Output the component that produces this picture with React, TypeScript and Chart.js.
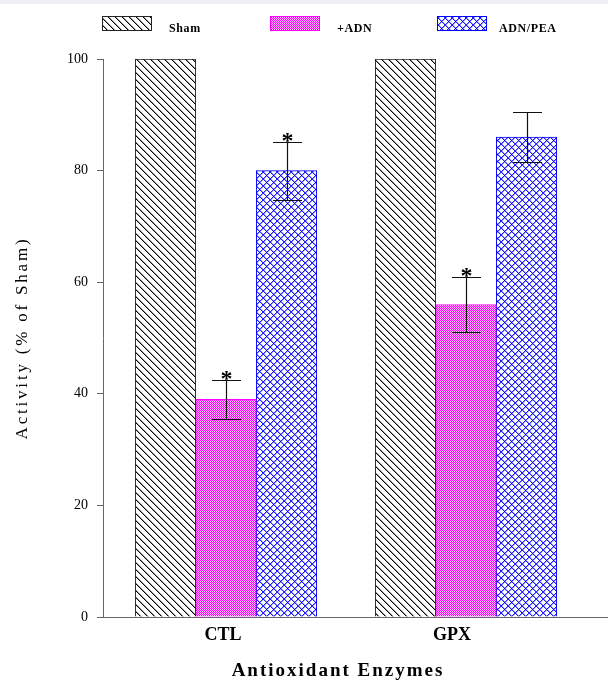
import React, { useEffect, useRef } from 'react';
import { Chart, registerables } from 'chart.js';

Chart.register(...registerables);

// ---- data ----
const categories = ['CTL', 'GPX'];
const seriesNames = ['Sham', '+ADN', 'ADN/PEA'];
const shamValues = [100, 100];
const shamErrors = [0, 0];
const adnValues = [39, 56];
const adnErrors = [3.5, 4.85];
const peaValues = [80, 86];
const peaErrors = [5.2, 4.45];
const shamStars = [false, false];
const adnStars = [true, true];
const peaStars = [true, false];
const yMin = 0;
const yMax = 100;
const yStep = 20;
const xTitle = 'Antioxidant Enzymes';
const yTitle = 'Activity (% of Sham)';

const SERIF = '"Liberation Serif", "Times New Roman", serif';

function tile(w: number, h: number, draw: (g: CanvasRenderingContext2D) => void) {
  const c = document.createElement('canvas');
  c.width = w;
  c.height = h;
  const g = c.getContext('2d')!;
  draw(g);
  return g.createPattern(c, 'repeat')!;
}

function shamPattern() {
  return tile(7, 7, (g) => {
    g.fillStyle = '#fff';
    g.fillRect(0, 0, 7, 7);
    for (let i = 0; i < 7; i++) {
      g.fillStyle = '#000';
      g.fillRect(i, i, 1, 1);
      g.fillStyle = '#9a9a9a';
      g.fillRect((i + 1) % 7, i, 1, 1);
    }
  });
}

function adnPattern() {
  return tile(2, 2, (g) => {
    g.fillStyle = '#ff00ff';
    g.fillRect(0, 0, 2, 2);
    g.fillStyle = '#ffc4ff';
    g.fillRect(1, 0, 1, 1);
    g.fillRect(0, 1, 1, 1);
  });
}

function peaPattern() {
  const n = 7;
  return tile(n, n, (g) => {
    g.fillStyle = '#fff';
    g.fillRect(0, 0, n, n);
    for (let i = 0; i < n; i++) {
      g.fillStyle = '#9a9aff';
      g.fillRect((i + 1) % n, i, 1, 1);
      g.fillRect((n - i + 1) % n, i, 1, 1);
    }
    for (let i = 0; i < n; i++) {
      g.fillStyle = '#2020ff';
      g.fillRect(i, i, 1, 1);
      g.fillRect((n - i) % n, i, 1, 1);
    }
    g.fillStyle = '#0000c8';
    g.fillRect(0, 0, 1, 1);
  });
}

export default function App() {
  const ref = useRef<HTMLCanvasElement>(null);

  useEffect(() => {
    const canvas = ref.current!;
    const fills = [shamPattern(), adnPattern(), peaPattern()];
    const borders = ['#222222', '#ff00ff', '#0000ff'];
    const valuesBy = [shamValues, adnValues, peaValues];
    const errorsBy = [shamErrors, adnErrors, peaErrors];
    const starsBy = [shamStars, adnStars, peaStars];

    const decor = {
      id: 'decor',
      beforeDraw(chart: any) {
        const ctx = chart.ctx;
        ctx.save();
        ctx.fillStyle = '#eff0f6';
        ctx.fillRect(0, 0, chart.width, 4);
        ctx.restore();
      },
      afterDatasetsDraw(chart: any) {
        const ctx = chart.ctx as CanvasRenderingContext2D;
        const yScale = chart.scales.y;
        ctx.save();
        for (let d = 0; d < valuesBy.length; d++) {
          const meta = chart.getDatasetMeta(d);
          valuesBy[d].forEach((v, i) => {
            const err = errorsBy[d][i];
            if (!err) return;
            const x = Math.round(meta.data[i].x) + 0.5;
            const yTop = Math.round(yScale.getPixelForValue(v + err)) + 0.5;
            const yBot = Math.round(yScale.getPixelForValue(v - err)) + 0.5;
            ctx.strokeStyle = '#111';
            ctx.lineWidth = 1.2;
            ctx.beginPath();
            ctx.moveTo(x, yTop);
            ctx.lineTo(x, yBot);
            ctx.moveTo(x - 14.5, yTop);
            ctx.lineTo(x + 14.5, yTop);
            ctx.moveTo(x - 14.5, yBot);
            ctx.lineTo(x + 14.5, yBot);
            ctx.stroke();
            if (starsBy[d][i]) {
              ctx.font = `bold 24px ${SERIF}`;
              ctx.fillStyle = '#000';
              ctx.textAlign = 'center';
              ctx.textBaseline = 'alphabetic';
              const m = ctx.measureText('*');
              const base = yTop - 1 - m.actualBoundingBoxDescent;
              ctx.fillText('*', x, base);
            }
          });
        }
        ctx.restore();
      },
      afterDraw(chart: any) {
        const ctx = chart.ctx as CanvasRenderingContext2D;
        ctx.save();
        // legend
        const boxX = [102, 270, 437];
        const textX = [169, 337, 499];
        seriesNames.forEach((name, k) => {
          ctx.fillStyle = fills[k];
          ctx.fillRect(boxX[k], 16, 50, 15);
          ctx.strokeStyle = borders[k];
          ctx.lineWidth = 1;
          ctx.strokeRect(boxX[k] + 0.5, 16.5, 49, 14);
          ctx.fillStyle = '#000';
          ctx.font = `bold 12px ${SERIF}`;
          (ctx as any).letterSpacing = '0.6px';
          ctx.textAlign = 'left';
          ctx.textBaseline = 'alphabetic';
          ctx.fillText(name, textX[k], 31.5);
        });
        // x title
        ctx.font = `bold 19px ${SERIF}`;
        (ctx as any).letterSpacing = '2px';
        ctx.textAlign = 'center';
        ctx.textBaseline = 'alphabetic';
        ctx.fillStyle = '#000';
        ctx.fillText(xTitle, 338, 676);
        // y title
        ctx.translate(23, 338);
        ctx.rotate(-Math.PI / 2);
        ctx.font = `17px ${SERIF}`;
        (ctx as any).letterSpacing = '2.8px';
        ctx.textBaseline = 'middle';
        ctx.fillText(yTitle, 0, 0);
        ctx.restore();
      },
    };

    const chart = new Chart(canvas, {
      type: 'bar',
      data: {
        datasets: seriesNames.map((name, k) => ({
          label: name,
          data: valuesBy[k].map((v, i) => ({ x: i, y: v })),
          backgroundColor: fills[k],
          borderColor: borders[k],
          borderWidth: 1,
          barThickness: 60.5,
        })),
      },
      options: {
        animation: false,
        responsive: false,
        layout: { padding: { top: 59, right: 1, bottom: 0, left: 0 } },
        plugins: {
          legend: { display: false },
          tooltip: { enabled: false },
          title: { display: false },
        },
        scales: {
          x: {
            type: 'linear',
            min: -0.5125,
            max: 1.5875,
            offset: false,
            grid: { display: false, drawTicks: false },
            border: { display: true, color: '#666', width: 1 },
            afterBuildTicks: (s: any) => {
              s.ticks = [-0.0125, 0.9417].map((v) => ({ value: v }));
            },
            afterFit: (s: any) => {
              s.height = 63;
            },
            ticks: {
              callback: (_v: any, i: number) => categories[i],
              font: { family: SERIF, size: 18, weight: 'bold' },
              color: '#000',
              padding: 8,
              autoSkip: false,
              maxRotation: 0,
            },
          },
          y: {
            min: yMin,
            max: yMax,
            ticks: {
              stepSize: yStep,
              font: { family: SERIF, size: 14 },
              color: '#000',
              padding: 9,
            },
            grid: { drawOnChartArea: false, drawTicks: true, tickLength: 6, color: '#666' },
            border: { display: true, color: '#666', width: 1 },
            afterFit: (s: any) => {
              s.width = 103;
            },
          },
        },
      } as any,
      plugins: [decor],
    });

    return () => chart.destroy();
  }, []);

  return (
    <div style={{ position: 'absolute', left: 0, top: 0, width: 608, height: 680, background: '#fff' }}>
      <canvas ref={ref} width={608} height={680} style={{ width: 608, height: 680, display: 'block' }} />
    </div>
  );
}
